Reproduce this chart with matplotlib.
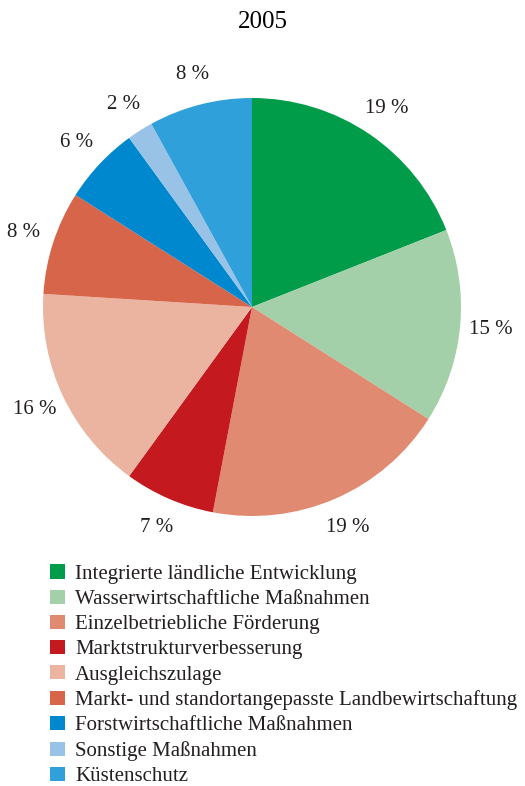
import matplotlib.pyplot as plt
from matplotlib.patches import Patch

plt.rcParams['font.family'] = ['Liberation Serif', 'DejaVu Serif']

# shares in percent, clockwise from 12 o'clock
categories = [
    'Integrierte ländliche Entwicklung',
    'Wasserwirtschaftliche Maßnahmen',
    'Einzelbetriebliche Förderung',
    'Marktstrukturverbesserung',
    'Ausgleichszulage',
    'Markt- und standortangepasste Landbewirtschaftung',
    'Forstwirtschaftliche Maßnahmen',
    'Sonstige Maßnahmen',
    'Küstenschutz',
]
shares = [19, 15, 19, 7, 16, 8, 6, 2, 8]
colors = ['#009c4a', '#a3cfa9', '#e08a71', '#c51920', '#ebb4a0',
          '#d7654a', '#0088cf', '#98c3e7', '#2fa0da']

fig = plt.figure(figsize=(5.25, 7.86), dpi=100)
fig.text(0.5, 1 - 22 / 786, '2005', ha='center', va='center', fontsize=18)

cx, cy, r = 252, 786 - 307, 209
ax = fig.add_axes([(cx - r) / 525, (cy - r) / 786, 2 * r / 525, 2 * r / 786])
wedges, texts = ax.pie(shares, colors=colors, startangle=90, counterclock=False,
                       labels=[f'{v} %' for v in shares], labeldistance=1.15,
                       textprops={'fontsize': 15, 'color': '#231f20'},
                       wedgeprops={'linewidth': 0})
for t in texts:
    t.set_ha('center')
    t.set_va('center')
ax.set_xlim(-1, 1)
ax.set_ylim(-1, 1)
ax.axis('off')

handles = [Patch(facecolor=c, edgecolor='none') for c in colors]
fig.legend(handles, categories, loc='upper left',
           bbox_to_anchor=(40 / 525, 1 - 554 / 786), frameon=False,
           fontsize=15, handlelength=0.68, handleheight=0.68,
           handletextpad=0.5, labelspacing=0.275, borderpad=0,
           labelcolor='#231f20')

fig.savefig('out.png', dpi=100)
